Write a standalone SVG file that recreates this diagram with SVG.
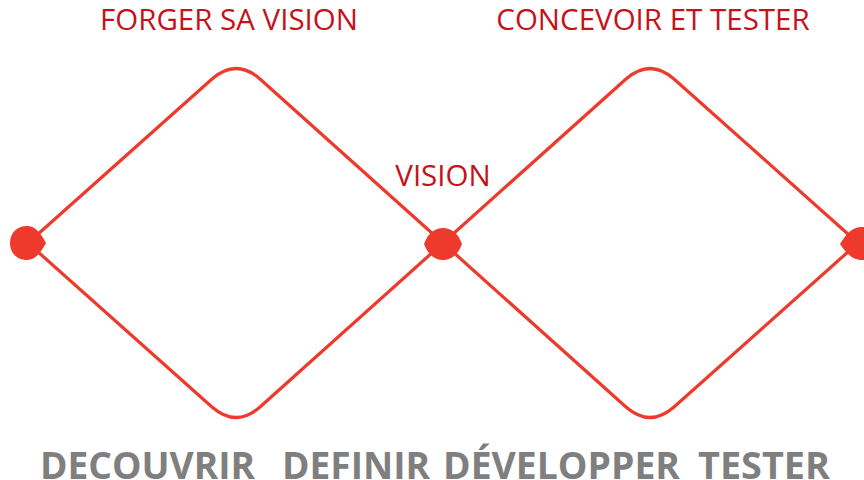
<svg xmlns="http://www.w3.org/2000/svg" width="864" height="480" viewBox="0 0 864 480">
<style>
.edge{fill:none;stroke:#ee3a2d;stroke-width:3.2;stroke-linejoin:round}
.dot{fill:#ee3a2d}
.top{font-family:"Open Sans","Noto Sans",sans-serif;font-size:29.5px;fill:#c4121a;text-anchor:middle}
.bot{font-family:"Open Sans","Noto Sans",sans-serif;font-weight:bold;font-size:38px;fill:#7f7f7f}
</style>
<rect width="864" height="480" fill="#ffffff"/>
<g id="connectors">
<path class="edge" d="M28,243 L212,79 Q236,58 260,79 L443,243 L260,407 Q236,428 212,407 Z"/>
<path class="edge" d="M443,243 L626,79 Q650,58 674,79 L858,243 L674,407 Q650,428 626,407 Z"/>
</g>
<g id="node-start"><path class="dot" d="M10,243 C10,232 18,226 27,226 C35,226 40,232 46,243 C40,254 35,260 27,260 C18,260 10,254 10,243 Z"/></g>
<g id="node-vision"><path class="dot" d="M424,244 C428,233 435,228 443,228 C451,228 458,233 462,244 C458,255 451,260 443,260 C435,260 428,255 424,244 Z"/></g>
<g id="node-end"><path class="dot" d="M840,244 C846,234 852,227 862,227 L870,227 L870,260 L862,260 C852,260 846,253 840,244 Z"/></g>
<g id="labels">
<text class="top" x="229" y="30">FORGER SA VISION</text>
<text class="top" x="653" y="30">CONCEVOIR ET TESTER</text>
<text class="top" x="443" y="186">VISION</text>
<text class="bot" x="40" y="479" textLength="215" lengthAdjust="spacingAndGlyphs">DECOUVRIR</text>
<text class="bot" x="282" y="479" textLength="148" lengthAdjust="spacingAndGlyphs">DEFINIR</text>
<text class="bot" x="443" y="479" textLength="237" lengthAdjust="spacingAndGlyphs">DÉVELOPPER</text>
<text class="bot" x="698" y="479" textLength="132" lengthAdjust="spacingAndGlyphs">TESTER</text>
</g>
</svg>
